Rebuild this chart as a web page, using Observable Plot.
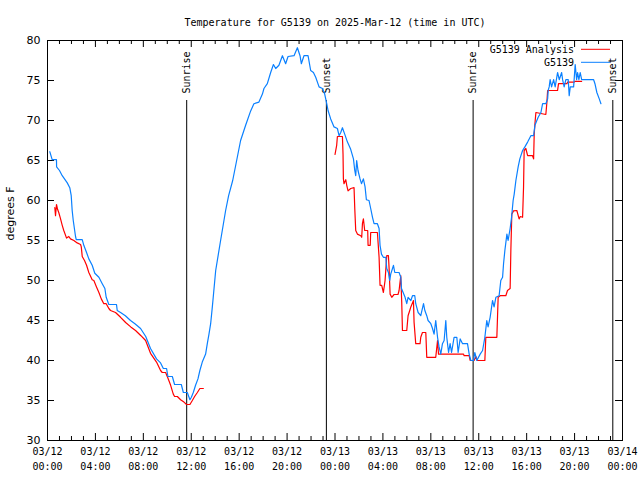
<!DOCTYPE html>
<html><head><meta charset="utf-8">
<script src="https://cdn.jsdelivr.net/npm/d3@7"></script>
<script src="https://cdn.jsdelivr.net/npm/@observablehq/plot@0.6"></script>
<style>body{margin:0;background:#fff}</style>
</head><body><div id="chart"></div>
<script>
// hours since 2025-03-12 00:00 UTC, temperature in degrees F
const observed = [
[0.19,66.1],[0.39,65.1],[0.75,65.1],[0.76,64.2],[1.00,63.75],[1.23,63.1],[1.65,62.2],[1.86,61.6],[1.98,60.6],[2.06,58.75],[2.15,57.5],[2.34,55.5],[2.40,55.1],[2.90,55.1],[3.03,54.4],[3.26,53.5],[3.45,52.7],[3.73,51.9],[3.95,50.9],[4.29,50.4],[4.57,49.6],[4.79,49.0],[4.90,47.9],[5.12,47.0],[5.76,47.0],[5.82,46.25],[6.10,46.0],[6.50,45.6],[6.93,45.0],[7.30,44.6],[7.77,44.0],[8.20,43.0],[8.60,41.5],[9.10,40.2],[9.44,39.7],[9.67,39.0],[9.94,39.0],[10.05,38.0],[10.42,38.0],[10.61,37.0],[11.17,37.0],[11.34,36.0],[11.67,36.0],[11.89,35.1],[12.01,35.4],[12.17,36.0],[12.36,36.9],[12.56,37.7],[12.72,38.75],[12.92,39.8],[13.20,40.8],[13.34,42.1],[13.48,43.3],[13.62,44.6],[13.76,46.7],[13.81,47.5],[14.04,51.25],[14.45,55.0],[14.87,58.75],[15.12,60.6],[15.46,62.5],[15.79,65.0],[16.12,67.5],[16.54,69.4],[16.96,71.2],[17.23,72.1],[17.65,72.3],[17.94,73.3],[18.07,74.0],[18.35,74.6],[18.63,76.0],[18.86,77.0],[19.05,76.5],[19.32,76.9],[19.61,78.1],[19.88,77.1],[20.08,78.0],[20.58,78.1],[20.86,79.1],[21.08,78.1],[21.19,77.1],[21.41,78.1],[21.75,78.1],[21.97,76.25],[22.20,76.0],[22.39,75.4],[22.67,74.2],[22.95,74.0],[23.14,73.3],[23.31,72.1],[23.42,71.25],[23.64,70.2],[23.92,69.2],[24.20,69.0],[24.34,68.1],[24.48,68.5],[24.62,69.1],[24.81,68.3],[25.04,67.3],[25.31,66.4],[25.54,65.2],[25.65,63.75],[25.73,63.1],[25.81,65.0],[25.92,63.75],[26.09,62.7],[26.21,62.1],[26.37,62.7],[26.51,61.7],[26.62,60.1],[26.84,60.0],[26.98,59.0],[27.13,57.9],[27.26,57.1],[27.54,57.1],[27.68,56.5],[27.76,54.4],[27.88,53.3],[28.04,52.9],[28.24,52.9],[28.32,51.5],[28.46,51.0],[28.57,50.0],[28.65,50.8],[28.80,51.5],[28.88,51.9],[28.99,51.0],[29.35,51.0],[29.49,50.4],[29.55,49.0],[29.85,47.9],[29.99,47.1],[30.10,47.9],[30.33,47.5],[30.47,48.1],[30.66,48.1],[30.74,47.1],[30.94,46.0],[31.16,45.6],[31.39,47.1],[31.50,46.25],[31.66,45.6],[31.77,45.0],[32.00,44.6],[32.14,44.0],[32.27,43.3],[32.41,45.0],[32.56,42.9],[32.69,41.7],[32.83,40.8],[32.97,42.1],[33.11,42.5],[33.25,45.0],[33.33,42.9],[33.48,41.0],[33.61,42.1],[33.73,41.0],[33.94,42.9],[34.17,42.9],[34.28,41.0],[34.45,42.7],[34.65,42.1],[35.06,42.1],[35.20,40.8],[35.34,40.0],[35.56,40.0],[35.67,41.0],[35.84,40.0],[36.12,40.8],[36.32,41.25],[36.51,42.9],[36.67,45.0],[36.78,44.2],[36.95,45.4],[37.15,47.5],[37.28,46.7],[37.43,47.9],[37.70,48.1],[37.84,50.0],[37.99,50.4],[38.07,52.1],[38.18,53.75],[38.35,55.8],[38.45,55.0],[38.62,56.5],[38.74,57.9],[38.87,60.0],[38.96,60.8],[39.10,62.5],[39.29,64.2],[39.43,65.2],[39.66,66.25],[39.85,66.7],[40.08,67.3],[40.35,68.1],[40.58,68.1],[40.69,69.4],[40.85,70.0],[40.96,70.4],[41.19,71.0],[41.33,72.1],[41.60,72.1],[41.75,72.7],[41.80,73.8],[41.88,74.2],[41.96,75.1],[42.08,74.2],[42.25,75.1],[42.38,74.2],[42.58,76.0],[42.72,75.1],[42.92,76.0],[43.00,75.1],[43.13,74.2],[43.27,75.1],[43.47,75.1],[43.55,73.1],[43.64,74.2],[43.92,74.2],[44.05,77.0],[44.17,75.1],[44.25,76.0],[44.36,75.1],[44.47,76.0],[44.59,75.1],[45.59,75.1],[45.70,74.6],[45.86,73.5],[46.06,72.7],[46.20,72.1]
];
const analysisNight1 = [
[0.61,59.1],[0.67,58.1],[0.75,59.5],[0.84,58.9],[0.94,58.5],[1.09,57.7],[1.23,56.9],[1.36,56.25],[1.59,55.3],[1.78,55.5],[1.92,55.2],[2.20,55.0],[2.48,54.7],[2.76,54.5],[2.82,54.2],[2.90,53.0],[3.09,52.5],[3.26,51.9],[3.45,51.0],[3.73,50.1],[3.87,50.0],[4.09,49.2],[4.29,48.5],[4.49,47.7],[4.70,47.1],[4.90,47.1],[5.12,46.5],[5.26,46.25],[5.68,46.0],[6.10,45.4],[6.52,44.75],[6.95,44.2],[7.35,43.75],[7.80,43.1],[8.19,42.5],[8.60,40.9],[9.10,39.8],[9.44,38.75],[9.58,38.5],[9.86,38.5],[10.05,37.8],[10.28,36.9],[10.50,35.8],[10.61,35.5],[10.84,35.5],[11.11,35.1],[11.39,34.8],[11.61,34.5],[11.89,34.5],[12.09,35.0],[12.28,35.5],[12.51,36.0],[12.72,36.5],[13.01,36.5]
];
const analysisNight2 = [
[24.00,65.75],[24.14,66.9],[24.20,68.0],[24.62,68.0],[24.67,65.8],[24.70,62.7],[24.75,62.1],[24.90,62.6],[24.98,61.9],[25.09,61.2],[25.31,61.5],[25.59,61.6],[25.65,59.0],[25.73,56.25],[25.87,55.8],[26.15,55.6],[26.23,55.4],[26.29,57.1],[26.37,57.7],[26.48,56.25],[26.73,56.25],[26.76,54.4],[26.94,54.4],[26.98,56.0],[27.54,56.0],[27.68,52.9],[27.76,49.4],[27.90,49.4],[28.04,48.5],[28.18,50.0],[28.32,53.1],[28.46,53.1],[28.51,51.7],[28.60,48.3],[28.74,47.9],[28.93,48.25],[29.26,48.25],[29.35,48.75],[29.49,50.6],[29.57,47.3],[29.63,43.75],[29.99,43.75],[30.10,45.6],[30.24,46.25],[30.33,46.7],[30.55,47.5],[30.60,44.8],[30.74,42.1],[31.10,42.1],[31.16,42.9],[31.30,43.5],[31.58,43.5],[31.66,40.4],[32.41,40.4],[32.56,42.5],[32.64,40.8],[34.73,40.8],[34.78,40.6],[35.20,40.6],[35.28,40.0],[35.61,40.0],[35.76,40.5],[35.90,40.0],[36.51,40.0],[36.59,42.9],[37.51,42.9],[37.57,45.6],[37.62,47.9],[37.79,48.1],[38.26,48.1],[38.40,48.75],[38.62,49.0],[38.68,53.75],[38.76,58.3],[38.90,58.7],[39.18,58.75],[39.37,57.7],[39.47,58.0],[39.66,57.9],[39.74,61.7],[39.79,66.25],[39.93,66.5],[40.08,65.6],[40.49,65.6],[40.58,65.2],[40.63,68.3],[40.69,69.6],[40.77,71.0],[41.60,70.75],[41.69,72.3],[41.75,73.75],[42.58,73.75],[42.66,74.6],[43.36,74.6],[43.42,74.8],[43.97,74.8],[44.05,74.9],[44.59,74.9]
];
const sunHours = [11.62, 23.28, 35.53, 47.19];
const sunLabels = ["Sunrise", "Sunset", "Sunrise", "Sunset"];
const xTickHours = [0, 4, 8, 12, 16, 20, 24, 28, 32, 36, 40, 44, 48];
const xTickLabels = ["03/12\n00:00","03/12\n04:00","03/12\n08:00","03/12\n12:00","03/12\n16:00","03/12\n20:00","03/13\n00:00","03/13\n04:00","03/13\n08:00","03/13\n12:00","03/13\n16:00","03/13\n20:00","03/14\n00:00"];
const yTicks = [30, 35, 40, 45, 50, 55, 60, 65, 70, 75, 80];
const seriesNames = ["G5139 Analysis", "G5139"];
const seriesColors = ["#ff0000", "#0a80ff"];
const titleText = "Temperature for G5139 on 2025-Mar-12 (time in UTC)";
const yLabel = "degrees F";

const mono = "'DejaVu Sans Mono', monospace";
const sans = "'DejaVu Sans', sans-serif";
const minorHours = d3.range(0, 49).filter(h => h % 4 !== 0);

function legend(index, scales, values, dims) {
  const g = d3.create("svg:g").attr("font-family", mono).attr("font-size", 10);
  const xr = dims.width - dims.marginRight;
  seriesNames.forEach((name, i) => {
    const y = dims.marginTop + 9.3 + i * 13;
    g.append("text").attr("x", xr - 48).attr("y", y).attr("dy", "0.35em")
      .attr("text-anchor", "end").attr("fill", "#000").text(name);
    g.append("line").attr("x1", xr - 41).attr("x2", xr - 12).attr("y1", y).attr("y2", y)
      .attr("stroke", seriesColors[i]).attr("stroke-width", 1);
  });
  return g.node();
}

const chart = Plot.plot({
  width: 640, height: 480,
  marginLeft: 47, marginRight: 18, marginTop: 40, marginBottom: 40,
  x: {domain: [0, 48], axis: null},
  y: {domain: [30, 80], axis: null},
  style: {fontFamily: mono, fontSize: "10px", background: "#fff", color: "#000", overflow: "visible"},
  marks: [
    Plot.frame({stroke: "#000"}),
    Plot.ruleX(xTickHours, {x: d => d, insetTop: 393, stroke: "#000"}),
    Plot.ruleX(xTickHours, {x: d => d, insetBottom: 393, stroke: "#000"}),
    Plot.ruleX(minorHours, {x: d => d, insetTop: 396, stroke: "#000"}),
    Plot.ruleX(minorHours, {x: d => d, insetBottom: 396, stroke: "#000"}),
    Plot.ruleY(yTicks, {y: d => d, insetRight: 568, stroke: "#000"}),
    Plot.ruleY(yTicks, {y: d => d, insetLeft: 568, stroke: "#000"}),
    Plot.text(yTicks, {y: d => d, text: d => String(d), frameAnchor: "left", textAnchor: "end", dx: -7, fontFamily: sans, fontSize: 11}),
    Plot.text(xTickHours, {x: d => d, text: (d, i) => xTickLabels[i], frameAnchor: "bottom", lineAnchor: "top", dy: 4, lineHeight: 1.5}),
    Plot.text([yLabel], {text: d => d, frameAnchor: "left", dx: -37, rotate: -90, fontFamily: sans, fontSize: 11}),
    Plot.text([titleText], {text: d => d, frameAnchor: "top", lineAnchor: "bottom", dy: -15}),
    Plot.ruleX(sunHours, {x: d => d, insetTop: 60, stroke: "#000"}),
    Plot.text(sunHours, {x: d => d, text: (d, i) => sunLabels[i], frameAnchor: "top", dy: 53, rotate: -90, textAnchor: "start", lineAnchor: "middle"}),
    Plot.line(analysisNight1, {x: d => d[0], y: d => d[1], stroke: seriesColors[0], strokeWidth: 1.2}),
    Plot.line(analysisNight2, {x: d => d[0], y: d => d[1], stroke: seriesColors[0], strokeWidth: 1.2}),
    Plot.line(observed, {x: d => d[0], y: d => d[1], stroke: seriesColors[1], strokeWidth: 1.2}),
    legend
  ]
});
document.getElementById("chart").append(chart);
</script>
</body></html>
